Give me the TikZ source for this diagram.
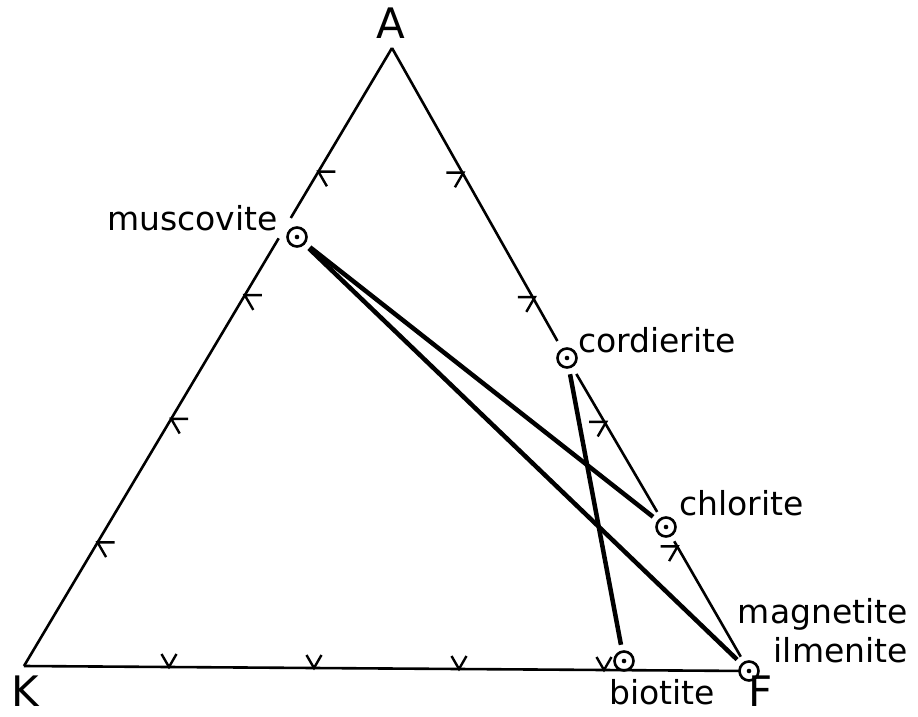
\documentclass[tikz,border=0pt]{standalone}
\usepackage{fontspec}
\setmainfont{DejaVu Sans}
\usetikzlibrary{calc}
\begin{document}
\begin{tikzpicture}[x=1pt,y=-1pt,
  phase/.style={circle,draw,line width=2.6pt,minimum size=19pt,inner sep=0pt,outer sep=0pt},
  edge/.style={line width=2.6pt},
  tie/.style={line width=4.5pt,shorten <=7pt,shorten >=7pt},
  tickmark/.style={line width=2.4pt},
  lbl/.style={font=\fontsize{33}{36}\selectfont,inner sep=0pt},
  vlbl/.style={font=\fontsize{42}{46}\selectfont,inner sep=0pt}]
\useasboundingbox (0,0) rectangle (918,717);

% vertices and phases
\coordinate (K) at (24,666);
\coordinate (A) at (392,48);
\node[phase] (F) at (749,671) {};
\node[phase] (mus) at (297,237) {};
\node[phase] (cord) at (567,358) {};
\node[phase] (chl) at (666,527) {};
\node[phase] (bio) at (624,661) {};
\foreach \n in {F,mus,cord,chl,bio} \fill (\n) circle (2.3);

% triangle edges
\draw[edge] (K) -- ($(K)!0.692!(A)$);
\draw[edge] ($(K)!0.725!(A)$) -- (A);
\draw[edge,shorten >=10pt] (A) -- (cord);
\draw[edge,shorten <=9pt,shorten >=8pt] (cord) -- (chl);
\draw[edge,shorten <=7pt,shorten >=7pt] (chl) -- (F);
\draw[edge] (K) -- (F);

% ticks
\foreach \f in {0.2,0.4,0.6,0.8} {
  \draw[tickmark] ($(K)!\f!(A)+(17,0)$) -- ($(K)!\f!(A)$) -- ++(8.5,14.7);
  \draw[tickmark] ($(A)!\f!(F)+(-17,0)$) -- ($(A)!\f!(F)$) -- ++(-8.5,14.7);
  \draw[tickmark] ($(K)!\f!(F)+(-7.5,-13)$) -- ($(K)!\f!(F)$) -- ++(7.5,-13);
}

% tie lines
\draw[tie] (mus) -- (chl);
\draw[tie] (mus) -- (F);
\draw[tie] (cord) -- (bio);

% labels
\node[vlbl,anchor=base] (lA) at (391,39) {A};
\node[vlbl,anchor=base] (lK) at (25,706) {K};
\node[vlbl,anchor=base] (lF) at (761,706) {F};
\node[lbl,anchor=base east] (lmus) at (278,230) {muscovite};
\node[lbl,anchor=base west] (lcord) at (578,352) {cordierite};
\node[lbl,anchor=base west] (lchl) at (679,515) {chlorite};
\node[lbl,anchor=base east] (lmag) at (908,623) {magnetite};
\node[lbl,anchor=base east] (lilm) at (908,662) {ilmenite};
\node[lbl,anchor=base] (lbio) at (662,704) {biotite};
\end{tikzpicture}
\end{document}
